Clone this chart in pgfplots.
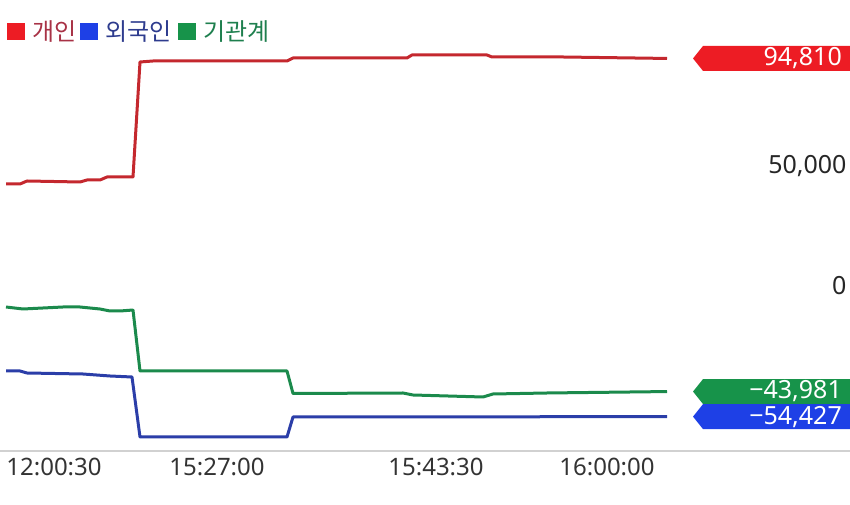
\documentclass[border=0pt]{standalone}
\usepackage{pgfplots}
\pgfplotsset{compat=1.18}
\usepackage{fontspec}
\setmainfont{Noto Sans}
\newfontfamily\kr{Noto Sans CJK KR}

\definecolor{linered}{HTML}{C4282E}
\definecolor{linegreen}{HTML}{1B8A4C}
\definecolor{lineblue}{HTML}{2B3EA8}
\definecolor{tagred}{HTML}{ED1C24}
\definecolor{taggreen}{HTML}{17934A}
\definecolor{tagblue}{HTML}{1E40E6}
\definecolor{txtred}{HTML}{A83246}
\definecolor{txtblue}{HTML}{2E3C8E}
\definecolor{txtgreen}{HTML}{1E7F4E}

\begin{document}
\begin{tikzpicture}
\begin{axis}[
  scale only axis,
  width=850pt, height=505pt,
  xmin=0, xmax=850,
  ymin=-91250, ymax=119167,
  clip=false,
  axis line style={draw=none},
  tick style={draw=none},
  scaled y ticks=false,
  scaled x ticks=false,
  /pgf/number format/assume math mode=true,
  ytick={0,50000},
  yticklabels={0,{50,000}},
  yticklabel pos=right,
  yticklabel style={anchor=east, font=\fontsize{25}{30}\selectfont, text=black!85},
  xtick={54,217,436,607},
  xticklabels={12:00:30,15:27:00,15:43:30,16:00:00},
  xticklabel style={anchor=center, yshift=38pt, font=\fontsize{24}{29}\selectfont, text=black!80},
]
% axis base line
\draw[black!18, line width=1.5pt] (axis cs:0,-68750) -- (axis cs:850,-68750);

% 개인
\addplot[linered, line width=3pt, line join=round] coordinates {
(6,42500) (20,42500) (27,43750) (80,43333) (87,44167) (100,44167) (107,45417)
(133,45417) (140,93333) (153,93750) (287,93750) (293,95000) (407,95000)
(412,96250) (487,96250) (492,95417) (563,95417) (667,94810)};
% 기관계
\addplot[linegreen, line width=3pt, line join=round] coordinates {
(6,-8750) (23,-9583) (63,-8750) (80,-8750) (100,-9583) (110,-10417) (120,-10417)
(133,-10000) (140,-35417) (287,-35417) (293,-44792) (403,-44583) (413,-45417)
(483,-46250) (493,-45000) (547,-44583) (667,-43981)};
% 외국인
\addplot[lineblue, line width=3pt, line join=round] coordinates {
(6,-35417) (20,-35417) (27,-36250) (83,-36667) (110,-37500) (132,-37917)
(140,-62917) (287,-62917) (293,-54583) (667,-54427)};

% value tags
\fill[tagred] (axis cs:850,94810) -- ++(0pt,12.5pt) -- ++(-147pt,0pt) -- ++(-10pt,-12.5pt) -- ++(10pt,-12.5pt) -- ++(147pt,0pt) -- cycle;
\node[anchor=east, text=white, inner sep=0pt, font=\fontsize{25}{30}\selectfont] at ([xshift=-8pt]axis cs:850,94810) {94,810};
\fill[taggreen] (axis cs:850,-43981) -- ++(0pt,12.5pt) -- ++(-147pt,0pt) -- ++(-10pt,-12.5pt) -- ++(10pt,-12.5pt) -- ++(147pt,0pt) -- cycle;
\node[anchor=east, text=white, inner sep=0pt, font=\fontsize{25}{30}\selectfont] at ([xshift=-8pt]axis cs:850,-43981) {−43,981};
\fill[tagblue] (axis cs:850,-54427) -- ++(0pt,12.5pt) -- ++(-147pt,0pt) -- ++(-10pt,-12.5pt) -- ++(10pt,-12.5pt) -- ++(147pt,0pt) -- cycle;
\node[anchor=east, text=white, inner sep=0pt, font=\fontsize{25}{30}\selectfont] at ([xshift=-8pt]axis cs:850,-54427) {−54,427};

% legend
\fill[tagred] (axis cs:7,102500) rectangle (axis cs:25,109583);
\node[anchor=west, inner sep=0pt, text=txtred, font=\kr\fontsize{24}{29}\selectfont] at (axis cs:32,106042) {개인};
\fill[tagblue] (axis cs:80,102500) rectangle (axis cs:98,109583);
\node[anchor=west, inner sep=0pt, text=txtblue, font=\kr\fontsize{24}{29}\selectfont] at (axis cs:105,106042) {외국인};
\fill[taggreen] (axis cs:178,102500) rectangle (axis cs:196,109583);
\node[anchor=west, inner sep=0pt, text=txtgreen, font=\kr\fontsize{24}{29}\selectfont] at (axis cs:203,106042) {기관계};
\end{axis}
\pgfresetboundingbox
\path (0,0) rectangle (850pt,505pt);
\end{tikzpicture}
\end{document}
